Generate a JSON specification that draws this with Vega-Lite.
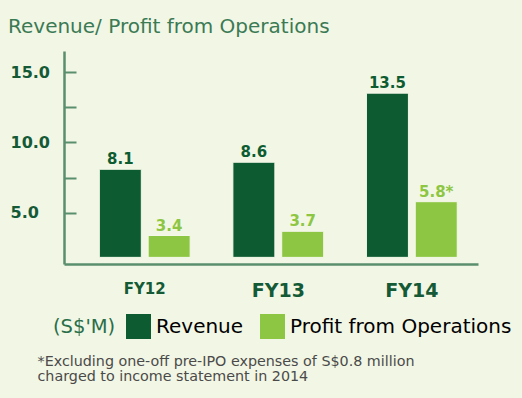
{
  "$schema": "https://vega.github.io/schema/vega-lite/v6.json",
  "autosize": {"type": "none"},
  "width": 414,
  "height": 213,
  "padding": {"left": 64, "top": 51, "right": 44, "bottom": 134},
  "background": "#f2f6e4",
  "config": {"view": {"stroke": null}},
  "title": {
    "text": "Revenue/ Profit from Operations",
    "anchor": "start",
    "frame": "group",
    "dx": -56,
    "offset": 14,
    "font": "DejaVu Sans",
    "fontSize": 20,
    "fontWeight": "normal",
    "color": "#3a7a55"
  },
  "data": {
    "values": [
      {"year": "FY12", "series": "Revenue", "value": 8.1, "label": "8.1"},
      {"year": "FY12", "series": "Profit from Operations", "value": 3.4, "label": "3.4"},
      {"year": "FY13", "series": "Revenue", "value": 8.6, "label": "8.6"},
      {"year": "FY13", "series": "Profit from Operations", "value": 3.7, "label": "3.7"},
      {"year": "FY14", "series": "Revenue", "value": 13.5, "label": "13.5"},
      {"year": "FY14", "series": "Profit from Operations", "value": 5.8, "label": "5.8*"}
    ]
  },
  "encoding": {
    "x": {
      "field": "year",
      "type": "nominal",
      "scale": {"paddingInner": 0.32, "paddingOuter": 0.21, "align": 0.63},
      "axis": {
        "title": ["*Excluding one-off pre-IPO expenses of S$0.8 million", "charged to income statement in 2014"],
        "titleX": -27,
        "titleY": 90,
        "titleAlign": "left",
        "titleBaseline": "top",
        "titleFont": "DejaVu Sans",
        "titleFontSize": 14.3,
        "titleFontWeight": "normal",
        "titleColor": "#4a4a4a",
        "titleLineHeight": 15,
        "labelAngle": 0,
        "labelFont": "DejaVu Sans",
        "labelFontWeight": "bold",
        "labelFontSize": {"condition": {"test": "datum.value == 'FY12'", "value": 15}, "value": 19},
        "labelColor": "#155a36",
        "labelPadding": 17,
        "ticks": false,
        "domainColor": "#5a8f6e",
        "domainWidth": 2.5
      }
    },
    "xOffset": {"field": "series", "type": "nominal", "sort": ["Revenue", "Profit from Operations"], "scale": {"paddingInner": 0.14}},
    "y": {
      "field": "value",
      "type": "quantitative",
      "scale": {"domain": [1.38, 16.49], "zero": false, "nice": false},
      "axis": {
        "title": null,
        "values": [5, 7.5, 10, 12.5, 15],
        "labelExpr": "datum.value % 5 == 0 ? format(datum.value, '.1f') : ''",
        "grid": false,
        "tickSize": -12,
        "tickWidth": 2,
        "tickColor": "#5a8f6e",
        "domainColor": "#5a8f6e",
        "domainWidth": 2.5,
        "labelAlign": "left",
        "labelPadding": 66,
        "labelFont": "DejaVu Sans",
        "labelFontWeight": "bold",
        "labelFontSize": 16,
        "labelColor": "#155a36"
      }
    }
  },
  "layer": [
    {
      "mark": {"type": "bar", "stroke": "#f4f8ea", "strokeWidth": 1},
      "encoding": {
        "y2": {"datum": 1.85},
        "color": {
          "field": "series",
          "type": "nominal",
          "sort": ["Revenue", "Profit from Operations"],
          "scale": {"domain": ["Revenue", "Profit from Operations"], "range": ["#0d5c31", "#8cc642"]},
          "legend": {
            "title": "(S$'M)",
            "orient": "none",
            "legendX": -11,
            "legendY": 263,
            "direction": "horizontal",
            "titleOrient": "left",
            "titleFont": "DejaVu Sans",
            "titleFontSize": 19.5,
            "titleFontWeight": "normal",
            "titleColor": "#2a6e4a",
            "titlePadding": 10,
            "titleBaseline": "middle",
            "symbolType": "square",
            "symbolSize": 625,
            "symbolStrokeWidth": 0,
            "symbolOpacity": 1,
            "labelFont": "DejaVu Sans",
            "labelFontSize": 20,
            "labelOffset": 5,
            "columnPadding": 16,
            "labelLimit": 300,
            "encode": {
              "labels": {"update": {"fill": {"signal": "datum.label == 'Revenue' ? '#1d6b45' : '#8cc642'"}}}
            }
          }
        }
      }
    },
    {
      "mark": {"type": "text", "dy": -10, "font": "DejaVu Sans", "fontWeight": "bold", "fontSize": 15},
      "encoding": {
        "text": {"field": "label"},
        "color": {
          "field": "series",
          "type": "nominal",
          "scale": {"domain": ["Revenue", "Profit from Operations"], "range": ["#1a4a30", "#8cc642"]},
          "legend": null
        }
      }
    }
  ]
}
